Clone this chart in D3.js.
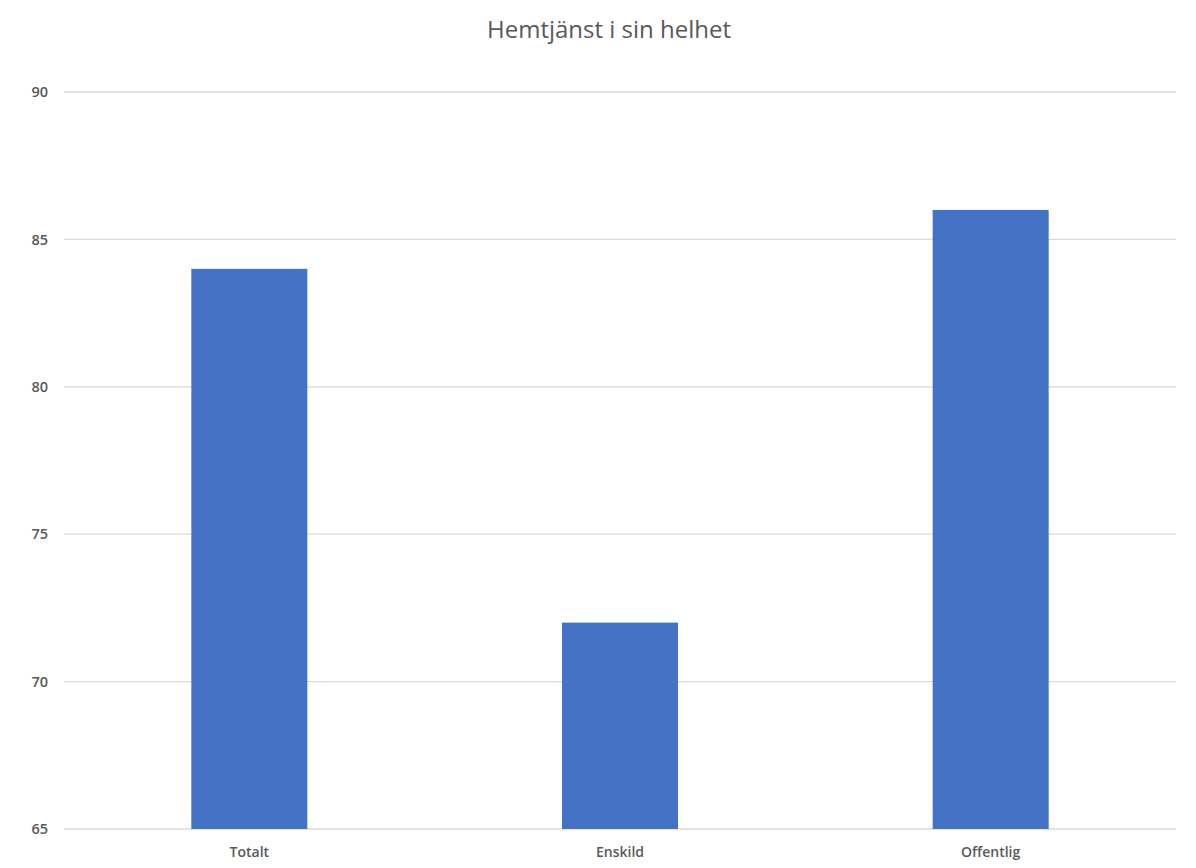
<!DOCTYPE html>
<html>
<head>
<meta charset="utf-8">
<script src="https://cdn.jsdelivr.net/npm/d3@7"></script>
<style>
  body { margin: 0; background: #fff; }
  text { font-family: "Open Sans", sans-serif; fill: #595959; }
</style>
</head>
<body>
<div id="chart"></div>
<script>
const categories = ['Totalt', 'Enskild', 'Offentlig']
const values = [84, 72, 86]
const yTicks = [65, 70, 75, 80, 85, 90]
const title = 'Hemtjänst i sin helhet'

const width = 1196
const height = 868
const margin = { top: 92, right: 20, bottom: 39, left: 64 }
const innerW = width - margin.left - margin.right
const innerH = height - margin.top - margin.bottom

const svg = d3.select('#chart').append('svg').attr('width', width).attr('height', height)

svg.append('text')
  .attr('x', 609).attr('y', 38)
  .attr('text-anchor', 'middle')
  .attr('font-size', 24)
  .attr('fill', '#4a4a4a')
  .text(title)

const g = svg.append('g').attr('transform', `translate(${margin.left}, ${margin.top})`)

const x = d3.scaleBand().domain(categories).range([0, innerW]).paddingInner(0.687).paddingOuter(0.3435)
const y = d3.scaleLinear().domain([65, 90]).range([innerH, 0])

// gridlines
g.append('g').selectAll('line').data(yTicks).enter().append('line')
  .attr('x1', 0).attr('x2', innerW)
  .attr('y1', d => y(d)).attr('y2', d => y(d))
  .attr('stroke', '#d9d9d9').attr('stroke-width', 1.3)

g.append('g').selectAll('rect').data(values).enter().append('rect')
  .attr('x', (d, i) => x(categories[i]))
  .attr('width', x.bandwidth())
  .attr('y', d => y(d))
  .attr('height', d => innerH - y(d))
  .attr('fill', '#4472c4')

const yAxis = d3.axisLeft(y).tickValues(yTicks).tickSize(0).tickPadding(16)
const yAxisGroup = g.append('g').call(yAxis)
yAxisGroup.select('.domain').remove()
yAxisGroup.selectAll('.tick text').attr('font-size', 14.5).attr('font-weight', 600).attr('fill', '#5a5a5a')

const xAxis = d3.axisBottom(x).tickSize(0).tickPadding(18)
const xAxisGroup = g.append('g').attr('transform', `translate(0, ${innerH})`).call(xAxis)
xAxisGroup.select('.domain').remove()
xAxisGroup.selectAll('.tick text').attr('font-size', 14).attr('font-weight', 600).attr('fill', '#505050')

svg.selectAll('.tick text').attr('font-family', '"Open Sans", sans-serif')
</script>
</body>
</html>
